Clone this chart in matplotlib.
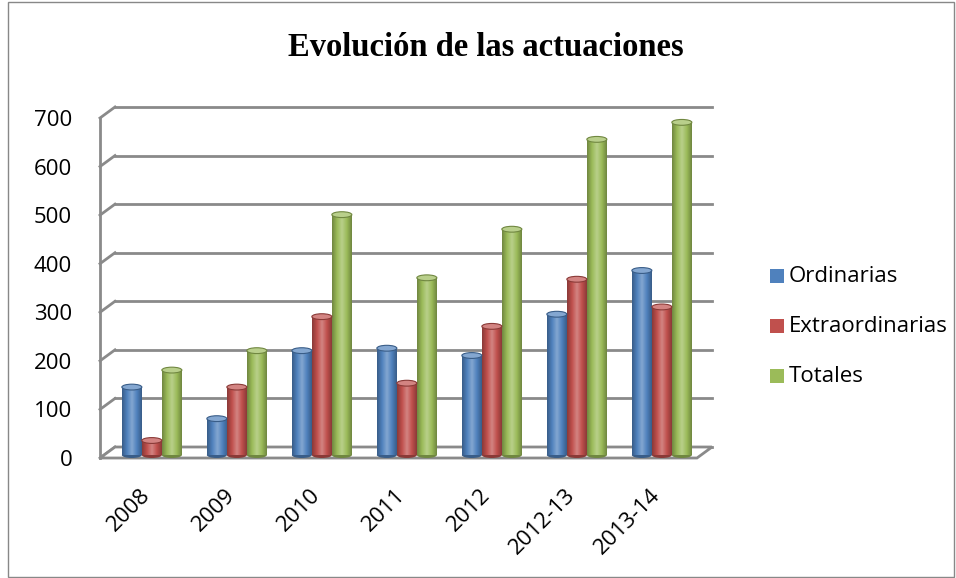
import numpy as np
import matplotlib
matplotlib.use('Agg')
import matplotlib.pyplot as plt
from matplotlib.colors import LinearSegmentedColormap, to_rgb
from matplotlib.patches import Ellipse, Rectangle, Polygon
from matplotlib.transforms import ScaledTranslation, IdentityTransform

categories = ['2008', '2009', '2010', '2011', '2012', '2012-13', '2013-14']
ordinarias = [140, 75, 215, 220, 205, 290, 380]
extraordinarias = [30, 140, 285, 148, 265, 362, 305]
totales = [175, 215, 495, 365, 465, 650, 685]
series_names = ['Ordinarias', 'Extraordinarias', 'Totales']
colors = ['#4F81BD', '#C0504D', '#9BBB59']
yticks = [0, 100, 200, 300, 400, 500, 600, 700]

W, H = 956, 578
fig = plt.figure(figsize=(W / 100, H / 100), dpi=100)
ax = fig.add_axes([100 / W, (H - 458) / H, 597 / W, 340 / H])

xl, xr = -0.61, -0.61 + 597 / 85
ax.set_xlim(xl, xr)
ax.set_ylim(0, 700)
for s in ax.spines.values():
    s.set_visible(False)

# pseudo 3d offset for the back wall
back = ax.transData + ScaledTranslation(0.15, 0.11, fig.dpi_scale_trans)
grid_c = '#8a8a8a'
for v in yticks:
    ax.plot([xl, xr], [v, v], transform=back, color=grid_c, lw=2, clip_on=False, zorder=1)
    p0 = ax.transData.transform((xl, v))
    ax.add_line(plt.Line2D([p0[0], p0[0] + 15], [p0[1], p0[1] + 11], color=grid_c, lw=2,
                           transform=IdentityTransform(), clip_on=False, zorder=1))
ax.plot([xl, xl], [0, 700], color=grid_c, lw=2, clip_on=False, zorder=1)

# floor
f0 = ax.transData.transform((xl, 0))
f1 = ax.transData.transform((xr, 0))
floor = Polygon([(f0[0], f0[1]), (f1[0], f1[1]), (f1[0] + 15, f1[1] + 11), (f0[0] + 15, f0[1] + 11)],
                closed=True, facecolor='white', edgecolor=grid_c, lw=2,
                transform=IdentityTransform(), clip_on=False, zorder=1.5)
ax.add_patch(floor)

# bars stand half way into the floor depth
base = 6
bw = 20 / 85
x = np.arange(len(categories))
data = [ordinarias, extraordinarias, totales]
grad = np.linspace(0, 1, 64).reshape(1, -1)
for k, (vals, c) in enumerate(zip(data, colors)):
    rgb = np.array(to_rgb(c))
    dark = rgb * 0.72
    light = np.clip(rgb + (1 - rgb) * 0.3, 0, 1)
    cmap = LinearSegmentedColormap.from_list('cyl', [dark, rgb, light, rgb, dark])
    for i, v in enumerate(vals):
        cx = x[i] + (k - 1) * bw
        ax.bar(cx, v, bottom=base, width=bw, color=c, zorder=3)
        ax.imshow(grad, cmap=cmap, extent=(cx - bw / 2, cx + bw / 2, base, base + v),
                  aspect='auto', zorder=3.1, interpolation='bilinear')
        ax.add_patch(Ellipse((cx, base + v), bw, 12, facecolor=light, edgecolor=dark, lw=0.8, zorder=3.2))
        ax.add_patch(Ellipse((cx, base), bw, 12, facecolor=dark, edgecolor='none', zorder=3.05))
ax.set_xlim(xl, xr)
ax.set_ylim(0, 700)

ax.set_yticks(yticks)
ax.set_yticklabels([str(v) for v in yticks], fontsize=16, family='Open Sans')
ax.tick_params(axis='y', length=0, pad=20)
ax.set_xticks(x - 0.14)
ax.set_xticklabels(categories, rotation=45, ha='right', va='top', rotation_mode='anchor',
                   fontsize=16, family='Open Sans')
ax.tick_params(axis='x', length=0, pad=19)

fig.text(0.508, 0.918, 'Evolución de las actuaciones', ha='center', va='center',
         fontsize=23.5, fontweight='bold', family='Liberation Serif')

# legend
for k, (name, c) in enumerate(zip(series_names, colors)):
    yy = 1 - (276 + 50 * k) / H
    fig.patches.append(Rectangle((770 / W, yy - 7 / H), 14 / W, 14 / H, facecolor=c,
                                 transform=fig.transFigure))
    fig.text(789 / W, yy, name, ha='left', va='center', fontsize=16, family='Open Sans')

fig.patches.append(Rectangle((8 / W, 0.002), 1 - 10 / W, 0.995, fill=False,
                             edgecolor='#888888', lw=1, transform=fig.transFigure))

fig.savefig('out.png', dpi=100)
